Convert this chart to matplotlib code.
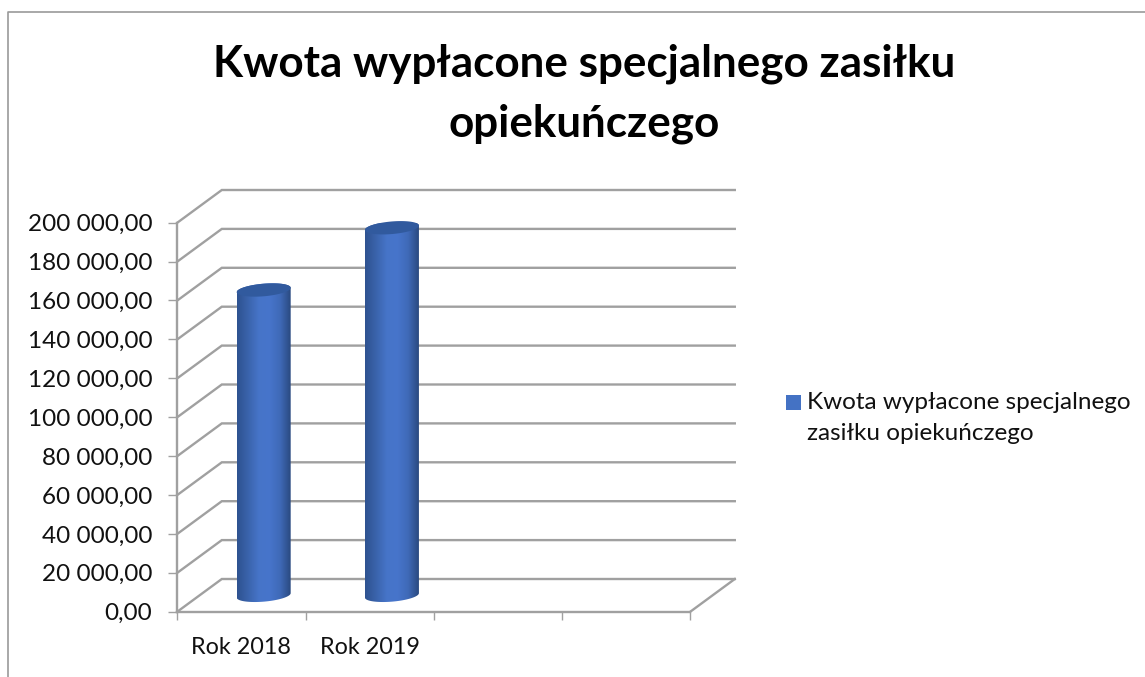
import matplotlib
matplotlib.use("Agg")
import matplotlib.pyplot as plt
import numpy as np
from matplotlib.colors import LinearSegmentedColormap
from matplotlib.lines import Line2D
from matplotlib.patches import Polygon, Rectangle

plt.rcParams["font.family"] = ["Lato", "DejaVu Sans"]

categories = ["Rok 2018", "Rok 2019", "", ""]
values = [157000, 189000]
y_ticks = [0, 20000, 40000, 60000, 80000, 100000, 120000, 140000, 160000, 180000, 200000]
y_labels = ["0,00", "20 000,00", "40 000,00", "60 000,00", "80 000,00", "100 000,00",
            "120 000,00", "140 000,00", "160 000,00", "180 000,00", "200 000,00"]
title = "Kwota wypłacone specjalnego zasiłku\nopiekuńczego"
series_name = "Kwota wypłacone specjalnego\nzasiłku opiekuńczego"

W, H = 1145, 677
GREY = "#a0a0a0"
LEFT, RIGHT, BOTTOM, TOP = 177.3, 690.3, 611.7, 222.7  # plot box in pixels

fig = plt.figure(figsize=(W / 100, H / 100), dpi=100, facecolor="white")
ax = fig.add_axes([LEFT / W, 1 - BOTTOM / H, (RIGHT - LEFT) / W, (BOTTOM - TOP) / H])
ax.patch.set_alpha(0)
ax.set_xlim(0, len(categories))
ax.set_ylim(0, 200000)

# pixel -> data scale, used for the fake 3D depth
sx = len(categories) / (RIGHT - LEFT)
sy = 200000 / (BOTTOM - TOP)
dx, dy = 44.5 * sx, 32.7 * sy

# walls
for v in y_ticks:
    ax.plot([0, dx, len(categories) + dx], [v, v + dy, v + dy], color=GREY, lw=1.7,
            clip_on=False, solid_joinstyle="miter", zorder=1)
ax.plot([len(categories), len(categories) + dx], [0, dy], color=GREY, lw=1.7, clip_on=False, zorder=1)

for s in ["top", "right"]:
    ax.spines[s].set_visible(False)
for s in ["left", "bottom"]:
    ax.spines[s].set_color(GREY)
    ax.spines[s].set_linewidth(1.7)

ax.set_yticks(y_ticks)
ax.set_yticklabels(y_labels)
ax.set_xticks(np.arange(len(categories) + 1))
ax.set_xticklabels([])
ax.set_xticks(np.arange(len(categories)) + 0.5, minor=True)
ax.set_xticklabels(categories, minor=True)
ax.tick_params(axis="y", length=6.5, width=1.0, color=GREY, pad=11.5, labelsize=17.5, labelcolor="#111111")
ax.tick_params(axis="x", which="major", length=6, width=1.0, color=GREY)
ax.tick_params(axis="x", which="minor", length=0, pad=18, labelsize=16.8, labelcolor="#111111")
for lab in ax.get_yticklabels():
    lab.set_y(lab.get_position()[1])

# cylinders
cmap = LinearSegmentedColormap.from_list(
    "cyl", ["#2e5290", "#3a63ab", "#4674c8", "#4775cb", "#3f6ab8", "#2a4a80"])
half_w, ry, skew = 27.0, 6.3, 2.2  # pixels
t = np.linspace(0, np.pi, 60)
for i, val in enumerate(values):
    cx = i + 0.5 + dx / 2
    base = dy / 2
    top = val + dy / 2
    # outline: top arc over, then bottom arc under
    outline = np.column_stack([
        np.r_[cx + half_w * np.cos(t) * sx, cx + half_w * np.cos(t + np.pi) * sx],
        np.r_[top + (ry * np.sin(t) + skew * np.cos(t)) * sy,
              base + (ry * np.sin(t + np.pi) + skew * np.cos(t + np.pi)) * sy]])
    body = Polygon(outline, closed=True, facecolor="none", edgecolor="none", zorder=3)
    ax.add_patch(body)
    im = ax.imshow(np.linspace(0, 1, 128)[None, :], cmap=cmap, aspect="auto", zorder=3,
                   extent=[cx - half_w * sx, cx + half_w * sx, base - 2 * ry * sy, top + 2 * ry * sy])
    im.set_clip_path(body)
    # top cap
    tt = np.linspace(0, 2 * np.pi, 90)
    cap = np.column_stack([cx + half_w * np.cos(tt) * sx,
                           top + (ry * np.sin(tt) + skew * np.cos(tt)) * sy])
    ax.add_patch(Polygon(cap, closed=True, facecolor="#315a9e", edgecolor="none", zorder=4, clip_on=False))

ax.set_xlim(0, len(categories))
ax.set_ylim(0, 200000)

# title and legend live in figure pixels
fig.text(584 / W, 1 - 94 / H, title, ha="center", va="center", fontsize=31.7, fontweight="bold",
         color="black", linespacing=1.6)
fig.add_artist(Rectangle((786 / W, 1 - 410 / H), 15 / W, 15 / H, transform=fig.transFigure,
                         facecolor="#4472c4", edgecolor="none"))
fig.text(807 / W, 1 - 418 / H, series_name, ha="left", va="center", fontsize=17.5,
         color="#111111", linespacing=1.6)

# chart frame, cropped on the right and at the bottom
fig.add_artist(Line2D([8 / W, 8 / W, 1], [0, 1 - 12 / H, 1 - 12 / H], color="#9a9a9a", lw=1.2,
                      transform=fig.transFigure))

fig.savefig("out.png", dpi=100)
